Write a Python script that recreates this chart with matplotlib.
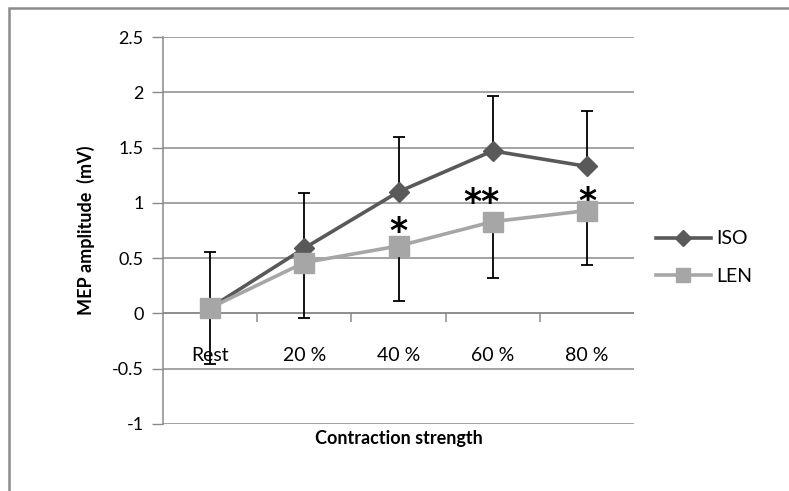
import matplotlib.pyplot as plt
from matplotlib.patches import Rectangle
import numpy as np

categories = ['Rest', '20 %', '40 %', '60 %', '80 %']
iso_mean = [0.05, 0.59, 1.10, 1.47, 1.33]
iso_err = [0.51, 0.50, 0.50, 0.50, 0.50]
len_mean = [0.05, 0.46, 0.61, 0.83, 0.93]
len_err = [0.51, 0.50, 0.50, 0.51, 0.49]

# significance marks
star_text = ['*', '**', '*']
star_x = [2, 2.88, 4]
star_y = [0.80, 1.06, 1.07]

plt.rcParams['font.family'] = ['Lato', 'DejaVu Sans']

fig = plt.figure(figsize=(7.89, 4.91), dpi=100)
W, H = 789, 491
ax = fig.add_axes([163 / W, 1 - 424 / H, (634 - 163) / W, (424 - 37) / H])

# outer frame of the chart
fig.patches.append(Rectangle((9 / W, -0.2), 1.2, 1 - 8 / H + 0.2, transform=fig.transFigure,
                             fill=False, edgecolor='#8c8c8c', linewidth=1.8))

x = np.arange(len(categories))
grid_c = '#8a8a8a'

ax.errorbar(x, iso_mean, yerr=[[0] * 5, iso_err], fmt='none', ecolor='black',
            elinewidth=1.3, capsize=4.5, capthick=1.3, zorder=3)
ax.errorbar(x, len_mean, yerr=[len_err, [0] * 5], fmt='none', ecolor='black',
            elinewidth=1.3, capsize=4.5, capthick=1.3, zorder=3)
ax.plot(x, iso_mean, color='#595959', linewidth=2.6, marker='D', markersize=10.5,
        label='ISO', zorder=4)
ax.plot(x, len_mean, color='#a6a6a6', linewidth=2.6, marker='s', markersize=14,
        label='LEN', zorder=5)

for t, sx, sy in zip(star_text, star_x, star_y):
    ax.text(sx, sy - 0.06, t, ha='center', va='center', fontsize=25, fontweight='bold',
            family='DejaVu Sans')

ax.set_xlim(-0.5, len(categories) - 0.5)
ax.set_ylim(-1, 2.5)
ax.set_yticks(np.arange(-1, 2.51, 0.5))
ax.set_yticklabels(['-1', '-0.5', '0', '0.5', '1', '1.5', '2', '2.5'], fontsize=13)
ax.yaxis.grid(True, color=grid_c, linewidth=1.1)
ax.set_axisbelow(True)
ax.tick_params(axis='y', direction='out', length=8, color=grid_c, width=1, pad=6)
ax.set_xticks([])
for s in ['top', 'right', 'bottom']:
    ax.spines[s].set_visible(False)
ax.spines['left'].set_color(grid_c)
ax.spines['left'].set_linewidth(1.1)

# category axis crossing at zero
ax.axhline(0, color=grid_c, linewidth=1.1, zorder=1)
ax.vlines(np.arange(0.5, len(categories) - 0.5), -0.075, 0, color=grid_c, linewidth=1.1)
for xi, c in zip(x, categories):
    ax.text(xi, -0.38, c, ha='center', va='center', fontsize=14)

ax.set_ylabel('MEP amplitude  (mV)', fontsize=13, fontweight='bold', labelpad=12)
ax.set_xlabel('Contraction strength', fontsize=13, fontweight='bold', labelpad=4)

ax.legend(loc='center left', bbox_to_anchor=(1.01, 0.43), frameon=False, fontsize=14,
          handlelength=2.8, labelspacing=1.05, handletextpad=0.3, markerscale=0.75)

fig.savefig('out.png', dpi=100)
